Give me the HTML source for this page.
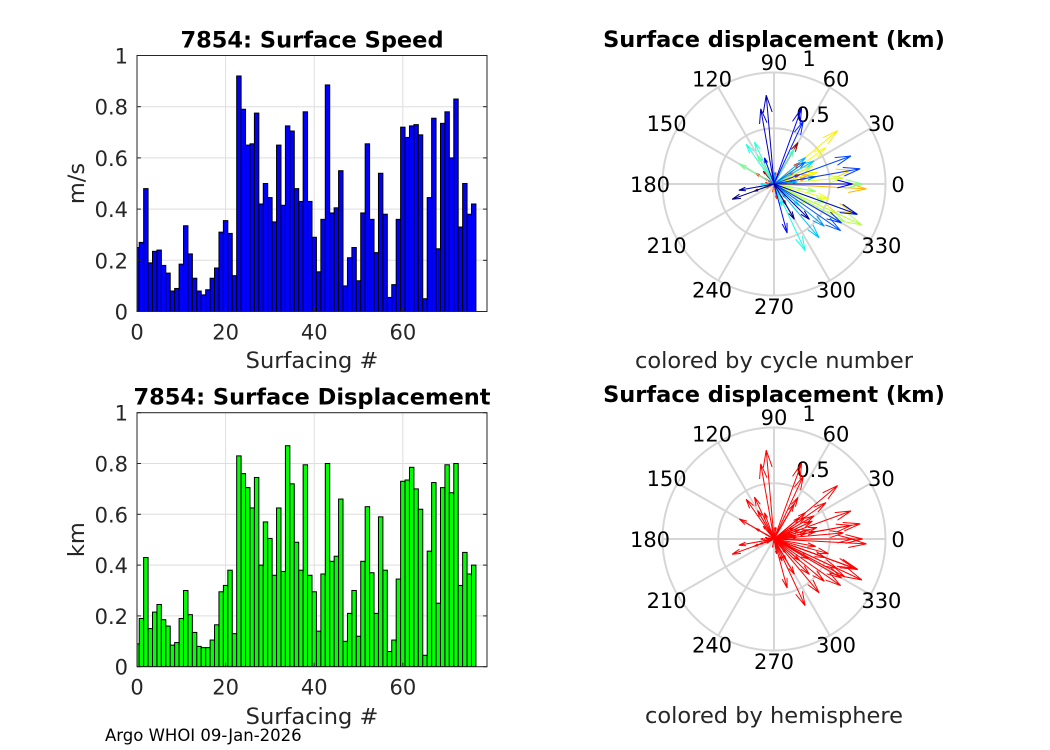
<!DOCTYPE html>
<html><head><meta charset="utf-8"><style>
body{margin:0;background:#fff;}
svg{display:block;font-family:"DejaVu Sans","Liberation Sans",sans-serif;}
</style></head><body>
<svg id="fig" width="1050" height="750" viewBox="0 0 1050 750">
<rect width="1050" height="750" fill="#fff"/>
</svg>
<script>
const cycles = Array.from({length:77},(_,i)=>i);
const speedValues = [0.25,0.27,0.48,0.19,0.235,0.24,0.18,0.15,0.08,0.09,0.185,0.335,0.225,0.13,0.08,0.065,0.085,0.13,0.17,0.31,0.355,0.305,0.14,0.92,0.79,0.65,0.655,0.775,0.42,0.50,0.445,0.35,0.65,0.415,0.725,0.705,0.48,0.43,0.78,0.43,0.29,0.155,0.36,0.885,0.385,0.405,0.55,0.10,0.21,0.25,0.12,0.385,0.655,0.36,0.23,0.54,0.38,0.055,0.105,0.36,0.72,0.68,0.725,0.73,0.69,0.05,0.445,0.755,0.245,0.735,0.78,0.60,0.83,0.33,0.50,0.38,0.42];
const dispValues = [0.09,0.19,0.43,0.15,0.215,0.245,0.185,0.16,0.085,0.095,0.19,0.30,0.205,0.135,0.08,0.075,0.075,0.105,0.165,0.295,0.32,0.38,0.13,0.83,0.76,0.705,0.625,0.745,0.40,0.57,0.505,0.36,0.625,0.375,0.87,0.72,0.49,0.38,0.795,0.36,0.295,0.14,0.365,0.80,0.415,0.435,0.66,0.10,0.21,0.30,0.12,0.415,0.63,0.37,0.21,0.59,0.38,0.06,0.105,0.345,0.73,0.735,0.785,0.70,0.62,0.045,0.455,0.725,0.25,0.705,0.795,0.685,0.80,0.32,0.45,0.365,0.40];
const dispAngles = [150,200,60,130,-60,20,10,-50,100,200,150,40,30,-80,170,210,-100,80,20,10,15,25,200,-3,-20,10,-25,40,15,35,-15,-30,5,25,-25,-28,-20,-10,0,150,120,200,60,-20,115,125,-65,190,-70,-40,180,30,-50,40,5,-40,10,150,85,35,-35,20,10,-30,65,180,-75,70,110,0,-20,100,95,190,-45,-60,200];
const xTicks = [0,20,40,60];
const yTicks = [0,0.2,0.4,0.6,0.8,1];
const yTickLabels = ["0","0.2","0.4","0.6","0.8","1"];
const polarAngleLabels = [0,30,60,90,120,150,180,210,240,270,300,330];

const NS="http://www.w3.org/2000/svg";
const svg=document.getElementById('fig');
function el(tag,attrs,parent,text){const e=document.createElementNS(NS,tag);for(const k in attrs)e.setAttribute(k,attrs[k]);if(text!==undefined)e.textContent=text;(parent||svg).appendChild(e);return e;}

function barChart(name,x0,x1,yTop,yBot,values,fill,title,ylab,xlabY){
  const g=el('g',{},svg);
  
  
  const xs=v=>x0+(v/79)*(x1-x0);
  const ys=v=>yBot-v*(yBot-yTop);
  xTicks.forEach(t=>{const l=el('line',{x1:xs(t),x2:xs(t),y1:yTop,y2:yBot,stroke:'#dedede'},g);});
  yTicks.forEach(t=>{const l=el('line',{x1:x0,x2:x1,y1:ys(t),y2:ys(t),stroke:'#dedede'},g);});
  const cid='clip-'+name;
  const cp=el('clipPath',{id:cid},g);el('rect',{x:x0,y:yTop,width:x1-x0,height:yBot-yTop},cp);
  const bg=el('g',{'clip-path':'url(#'+cid+')'},g);
  values.forEach((v,i)=>{const c=cycles[i];const r=el('rect',{x:xs(c-0.5),y:ys(v),width:xs(1)-xs(0),height:ys(0)-ys(v),fill:fill,stroke:'#000','stroke-width':1},bg);
    
    });
  const bx=el('rect',{x:x0,y:yTop,width:x1-x0,height:yBot-yTop,fill:'none',stroke:'#262626','stroke-width':1},g);
  
  xTicks.forEach(t=>{el('line',{x1:xs(t),x2:xs(t),y1:yBot,y2:yBot-4,stroke:'#262626'},g);
    const tx=el('text',{x:xs(t),y:yBot+28,'font-size':21,'text-anchor':'middle',fill:'#262626'},g,String(t));});
  yTicks.forEach((t,i)=>{el('line',{x1:x0,x2:x0+4,y1:ys(t),y2:ys(t),stroke:'#262626'},g);el('line',{x1:x1,x2:x1-4,y1:ys(t),y2:ys(t),stroke:'#262626'},g);
    const tx=el('text',{x:x0-9,y:ys(t)+8,'font-size':21,'text-anchor':'end',fill:'#262626'},g,yTickLabels[i]);});
  const tt=el('text',{x:(x0+x1)/2,y:yTop-8,'font-size':22.5,'font-weight':'bold','text-anchor':'middle',fill:'#000'},g,title);
  
  const yl=el('text',{x:0,y:0,'font-size':22.5,'text-anchor':'middle',fill:'#262626',transform:`translate(84,${(yTop+yBot)/2}) rotate(-90)`},g,ylab);
  
  const xl=el('text',{x:(x0+x1)/2,y:xlabY,'font-size':22.5,'text-anchor':'middle',fill:'#262626'},g,'Surfacing #');
  
}
barChart('speed-bar-chart',137,487,55.5,311.5,speedValues,'#0000ff','7854: Surface Speed','m/s',368);
barChart('displacement-bar-chart',137,487,412.7,666.7,dispValues,'#00ff00','7854: Surface Displacement','km',724);

function jet(t){const r=Math.min(Math.max(Math.min(4*t-1.5,-4*t+4.5),0),1);const g=Math.min(Math.max(Math.min(4*t-0.5,-4*t+3.5),0),1);const b=Math.min(Math.max(Math.min(4*t+0.5,-4*t+2.5),0),1);return `rgb(${Math.round(r*255)},${Math.round(g*255)},${Math.round(b*255)})`;}

function polar(name,cx,cy,colorFn,caption){
  const R=111.5;
  const g=el('g',{},svg);
  
  
  [0.5,1].forEach(r=>{const c=el('circle',{cx:cx,cy:cy,r:r*R,fill:'none',stroke:'#d6d6d6','stroke-width':2},g);});
  polarAngleLabels.forEach(a=>{const rad=a*Math.PI/180;
    const l=el('line',{x1:cx,y1:cy,x2:cx+R*Math.cos(rad),y2:cy-R*Math.sin(rad),stroke:'#d6d6d6','stroke-width':2},g);
    
    const t=el('text',{x:cx+124*Math.cos(rad),y:cy-122*Math.sin(rad)+8,'font-size':21,'text-anchor':'middle',fill:'#000'},g,String(a));
    });
  const r5=el('text',{x:cx+39,y:cy-62,'font-size':21,'text-anchor':'middle',fill:'#000'},g,'0.5');
  const r1=el('text',{x:cx+35,y:cy-118,'font-size':21,'text-anchor':'middle',fill:'#000'},g,'1');
  dispValues.forEach((v,i)=>{const rad=dispAngles[i]*Math.PI/180;const L=v*R;
    const tx=cx+L*Math.cos(rad),ty=cy-L*Math.sin(rad);
    const h=L*0.2,w=0.25;
    const ax=tx-h*Math.cos(rad-w),ay=ty+h*Math.sin(rad-w);
    const bx=tx-h*Math.cos(rad+w),by=ty+h*Math.sin(rad+w);
    const p=el('path',{d:`M${cx},${cy}L${tx},${ty}M${ax},${ay}L${tx},${ty}L${bx},${by}`,fill:'none',stroke:colorFn(i),'stroke-width':1},g);
    
    });
  const tt=el('text',{x:cx,y:cy-137,'font-size':22.5,'font-weight':'bold','text-anchor':'middle',fill:'#000'},g,'Surface displacement (km)');
  
  const cap=el('text',{x:cx,y:cy+184,'font-size':22.5,'text-anchor':'middle',fill:'#262626'},g,caption);
  
}
polar('polar-cycle-colored',774,184,i=>jet(1-i/76),'colored by cycle number');
polar('polar-hemisphere-colored',774,539,i=>'#ff0000','colored by hemisphere');

const foot=el('text',{x:105,y:741,'font-size':16.5,fill:'#000'},svg,'Argo WHOI 09-Jan-2026');

</script>
</body></html>
